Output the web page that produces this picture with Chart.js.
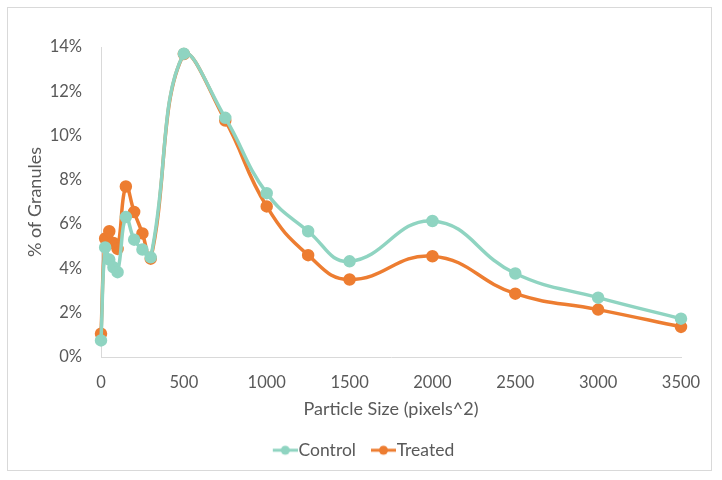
<!DOCTYPE html>
<html>
<head>
<meta charset="utf-8">
<script src="https://cdn.jsdelivr.net/npm/chart.js@4.4.0/dist/chart.umd.min.js"></script>
<style>
  html, body { margin: 0; padding: 0; background: #fff; }
  #wrap { position: relative; width: 722px; height: 480px; }
  #frame { position: absolute; left: 7px; top: 7px; width: 705px; height: 464px; border: 1px solid #d9d9d9; box-sizing: border-box; pointer-events: none; }
</style>
</head>
<body>
<div id="wrap">
  <canvas id="chart" width="722" height="480"></canvas>
  <div id="frame"></div>
</div>
<script>
// Particle sizes (pixels^2) and % of granules per group
const sizes = [0, 25, 50, 75, 100, 150, 200, 250, 300, 500, 750, 1000, 1250, 1500, 2000, 2500, 3000, 3500];
const control = [0.0075, 0.0495, 0.044, 0.0405, 0.0383, 0.0632, 0.053, 0.0485, 0.045, 0.137, 0.108, 0.074, 0.0568, 0.0432, 0.0614, 0.0377, 0.0268, 0.0173];
const treated = [0.0105, 0.0535, 0.0568, 0.0515, 0.0488, 0.077, 0.0655, 0.0558, 0.0444, 0.1368, 0.1068, 0.068, 0.046, 0.035, 0.0455, 0.0286, 0.0214, 0.0136];

const teal = '#8fd4c1';
const orange = '#ed7d31';
const textColor = '#595959';
const fontFamily = 'Lato, "Open Sans", sans-serif';

function toPoints(values) {
    return sizes.map((s, i) => ({ x: s, y: values[i] }));
}

// line + dot marker for the legend, like Excel's
// (blank space on the left so it sits close to its text)
function legendMarker(color) {
    const c = document.createElement('canvas');
    c.width = 38; c.height = 12;
    const ctx = c.getContext('2d');
    ctx.strokeStyle = color;
    ctx.lineWidth = 3;
    ctx.beginPath();
    ctx.moveTo(13, 6); ctx.lineTo(38, 6);
    ctx.stroke();
    ctx.fillStyle = color;
    ctx.beginPath();
    ctx.arc(25.5, 6, 4.5, 0, Math.PI * 2);
    ctx.fill();
    return c;
}

function makeSet(label, values, color) {
    return {
        label: label,
        data: toPoints(values),
        borderColor: color,
        backgroundColor: color,
        borderWidth: 3.5,
        pointRadius: 4.5,
        pointHoverRadius: 5,
        showLine: true,
        tension: 0.45,
        clip: false,
        pointStyle: 'circle'
    };
}

const ctx = document.getElementById('chart').getContext('2d');
new Chart(ctx, {
    type: 'scatter',
    data: {
        datasets: [
            makeSet('Control', control, teal),
            makeSet('Treated', treated, orange)
        ]
    },
    options: {
        responsive: false,
        animation: false,
        layout: { padding: { top: 47, right: 0, bottom: 11, left: 0 } },
        plugins: {
            tooltip: { enabled: false },
            legend: {
                position: 'bottom',
                labels: {
                    color: textColor,
                    font: { family: fontFamily, size: 17.5 },
                    padding: 10,
                    usePointStyle: true,
                    pointStyleWidth: 22,
                    generateLabels: function(chart) {
                        return chart.data.datasets.map((ds, i) => ({
                            text: ds.label,
                            fontColor: textColor,
                            pointStyle: legendMarker(ds.borderColor),
                            datasetIndex: i,
                            lineWidth: 0,
                            strokeStyle: 'transparent',
                            fillStyle: 'transparent'
                        }));
                    }
                }
            }
        },
        scales: {
            x: {
                type: 'linear',
                min: 0,
                max: 3500,
                afterFit: function(scale) { scale.height = 74.5; },
                grid: { display: false, drawTicks: false },
                border: { display: true, color: '#d9d9d9', width: 1 },
                ticks: {
                    stepSize: 500,
                    color: textColor,
                    padding: 16,
                    font: { family: fontFamily, size: 16.5 },
                    callback: v => String(v)
                },
                title: {
                    display: true,
                    text: 'Particle Size (pixels^2)',
                    color: textColor,
                    font: { family: fontFamily, size: 18 },
                    padding: { top: 6, bottom: 12 }
                }
            },
            y: {
                min: 0,
                max: 0.14,
                afterFit: function(scale) { scale.width = 101; },
                grid: { display: false, drawTicks: false },
                border: { display: true, color: '#d9d9d9', width: 1 },
                ticks: {
                    stepSize: 0.02,
                    color: textColor,
                    padding: 19,
                    font: { family: fontFamily, size: 16.5 },
                    callback: v => Math.round(v * 100) + '%'
                },
                title: {
                    display: true,
                    text: '% of Granules',
                    color: textColor,
                    font: { family: fontFamily, size: 18 },
                    padding: { top: 24, bottom: 0 }
                }
            },
            // empty right-hand spacer so the legend centres on the whole canvas
            spacer: {
                type: 'linear',
                position: 'right',
                min: 0,
                max: 1,
                afterFit: function(scale) { scale.width = 41; },
                grid: { display: false, drawTicks: false },
                border: { display: false },
                ticks: { display: false }
            }
        }
    }
});
</script>
</body>
</html>
